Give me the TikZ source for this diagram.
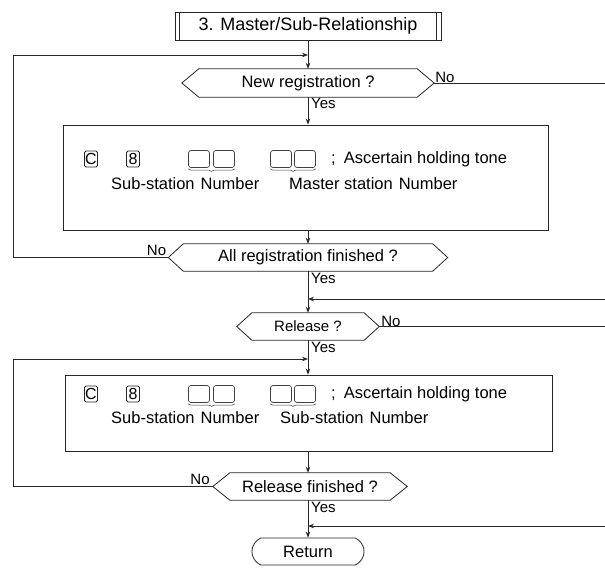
\documentclass[tikz,border=0pt]{standalone}
\usepackage{fontspec}
\setmainfont{Liberation Sans}
\usetikzlibrary{arrows.meta,shapes.misc,decorations.pathreplacing,calc}
\tikzset{
  ln/.style={line width=0.8pt, draw=black!85},
  arr/.style={ln, -{Stealth[length=6pt,width=4.5pt]}},
  txt/.style={font=\fontsize{16.5}{19}\selectfont, inner sep=0pt},
  small/.style={font=\fontsize{15}{17}\selectfont, inner sep=0pt},
  keybox/.style={draw=black!85, line width=0.8pt, rounded corners=1.5pt, minimum width=13pt, minimum height=16pt, inner sep=0pt, font=\fontsize{16}{17}\selectfont},
  emptybox/.style={draw=black!75, line width=0.7pt, rounded corners=2.5pt, minimum width=21pt, minimum height=17pt, inner sep=0pt},
  hexbox/.style={draw=none, inner sep=0pt, font=\fontsize{16.5}{19}\selectfont},
  bigbox/.style={draw=black!85, line width=0.8pt, inner sep=0pt},
  ubrace/.style={draw=black!75, line width=0.6pt, decorate, decoration={brace, mirror, amplitude=2.5pt}}
}
\newcommand{\hexdraw}[2]{%
  \draw[ln] (#1.west) -- ([xshift=#2]#1.north west) -- ([xshift=-#2]#1.north east) -- (#1.east) -- ([xshift=-#2]#1.south east) -- ([xshift=#2]#1.south west) -- cycle;}
\begin{document}
\begin{tikzpicture}[x=1pt,y=-1pt]
\useasboundingbox (0,0) rectangle (605,571);
\fill[white] (0,0) rectangle (605,571);

% free-end coordinates
\coordinate (lx) at (13,0);
\coordinate (rx) at (605,0);

% title
\node[bigbox, minimum width=266pt, minimum height=28pt, font=\fontsize{18}{20}\selectfont] (t) at (308,26) {3. Master/Sub-Relationship};
\draw[ln] ([xshift=5pt]t.north west) -- ([xshift=5pt]t.south west);
\draw[ln] ([xshift=-5pt]t.north east) -- ([xshift=-5pt]t.south east);

% New registration
\node[hexbox, minimum width=252pt, minimum height=28pt] (nr) at (308,83) {New registration ?};
\hexdraw{nr}{17pt}
\node[small, anchor=south west] (nrno) at ([xshift=1pt]nr.east) {No};
\node[small, anchor=north west] (nryes) at (311,98) {Yes};

% box 1
\node[bigbox, minimum width=485pt, minimum height=105pt] (b1) at (305.5,177.5) {};
\node[keybox] (c1) at (91,159) {C};
\node[keybox] (e1) at (133,159) {8};
\node[emptybox] (s1a) at (199,159) {};
\node[emptybox] (s1b) at (224,159) {};
\node[emptybox] (s1c) at (281,159) {};
\node[emptybox] (s1d) at (305,159) {};
\node[txt, anchor=west] (a1) at (331,159) {;\hspace{8pt}Ascertain holding tone};
\draw[ubrace] ([yshift=-1pt]s1a.south west) -- ([yshift=-1pt]s1b.south east);
\draw[ubrace] ([yshift=-1pt]s1c.south west) -- ([yshift=-1pt]s1d.south east);
\node[txt, anchor=base west] (l1a) at (111,189) {Sub-station\hspace{6pt}Number};
\node[txt, anchor=base west] (l1b) at (289,189) {Master station\hspace{6pt}Number};

% All registration finished
\node[hexbox, minimum width=279pt, minimum height=27pt] (ar) at (308,257.5) {All registration finished ?};
\hexdraw{ar}{15pt}
\node[small, anchor=south east] (arno) at ([xshift=-2pt,yshift=2pt]ar.west) {No};
\node[small, anchor=north west] (aryes) at (311,273) {Yes};

% Release
\node[hexbox, minimum width=142pt, minimum height=27pt, font=\fontsize{15}{17}\selectfont] (rel) at (308,326.5) {Release ?};
\hexdraw{rel}{15pt}
\node[small, anchor=south west] (relno) at ([xshift=2pt]rel.east) {No};
\node[small, anchor=north west] (relyes) at (311,342) {Yes};

% box 2
\node[bigbox, minimum width=487pt, minimum height=76pt] (b2) at (308.5,413) {};
\node[keybox] (c2) at (91,394) {C};
\node[keybox] (e2) at (133,394) {8};
\node[emptybox] (s2a) at (199,394) {};
\node[emptybox] (s2b) at (224,394) {};
\node[emptybox] (s2c) at (281,394) {};
\node[emptybox] (s2d) at (305,394) {};
\node[txt, anchor=west] (a2) at (331,394) {;\hspace{8pt}Ascertain holding tone};
\draw[ubrace] ([yshift=-1pt]s2a.south west) -- ([yshift=-1pt]s2b.south east);
\draw[ubrace] ([yshift=-1pt]s2c.south west) -- ([yshift=-1pt]s2d.south east);
\node[txt, anchor=base west] (l2a) at (111,423) {Sub-station\hspace{6pt}Number};
\node[txt, anchor=base west] (l2b) at (280,423) {Sub-station\hspace{6pt}Number};

% Release finished
\node[hexbox, minimum width=194pt, minimum height=27pt] (rf) at (310,486.5) {Release finished ?};
\hexdraw{rf}{17pt}
\node[small, anchor=south east] (rfno) at ([xshift=-3pt,yshift=2pt]rf.west) {No};
\node[small, anchor=north west] (rfyes) at (311,502) {Yes};

% Return
\node[draw=black!85, line width=0.8pt, rounded rectangle, rounded rectangle arc length=135, minimum width=112pt, minimum height=27pt, inner sep=0pt, font=\fontsize{16.5}{19}\selectfont] (ret) at (308,551.5) {Return};

% junction coordinates
\coordinate (j1) at (308,55);
\coordinate (j2) at (308,299);
\coordinate (j3) at (308,359);
\coordinate (j4) at (308,526);
\coordinate (f1) at (605,299);
\coordinate (f2) at (605,526);

% connectors
\draw[arr] (t.south) -- (t.south |- nr.north);
\draw[arr] (ar.west) -- (ar.west -| lx) |- (j1);
\draw[ln] (nr.east) -- (nr.east -| rx);
\draw[arr] (t.south |- nr.south) -- (t.south |- b1.north);
\draw[arr] (t.south |- b1.south) -- (t.south |- ar.north);
\draw[ln] (t.south |- ar.south) -- (j2);
\draw[arr] (f1) -- (j2);
\draw[arr] (j2) -- (t.south |- rel.north);
\draw[ln] (rel.east) -- (rel.east -| rx);
\draw[ln] (t.south |- rel.south) -- (j3);
\draw[arr] (rf.west) -- (rf.west -| lx) |- (j3);
\draw[arr] (j3) -- (t.south |- b2.north);
\draw[arr] (t.south |- b2.south) -- (t.south |- rf.north);
\draw[ln] (t.south |- rf.south) -- (j4);
\draw[arr] (f2) -- (j4);
\draw[arr] (j4) -- (ret.north);
\end{tikzpicture}
\end{document}
